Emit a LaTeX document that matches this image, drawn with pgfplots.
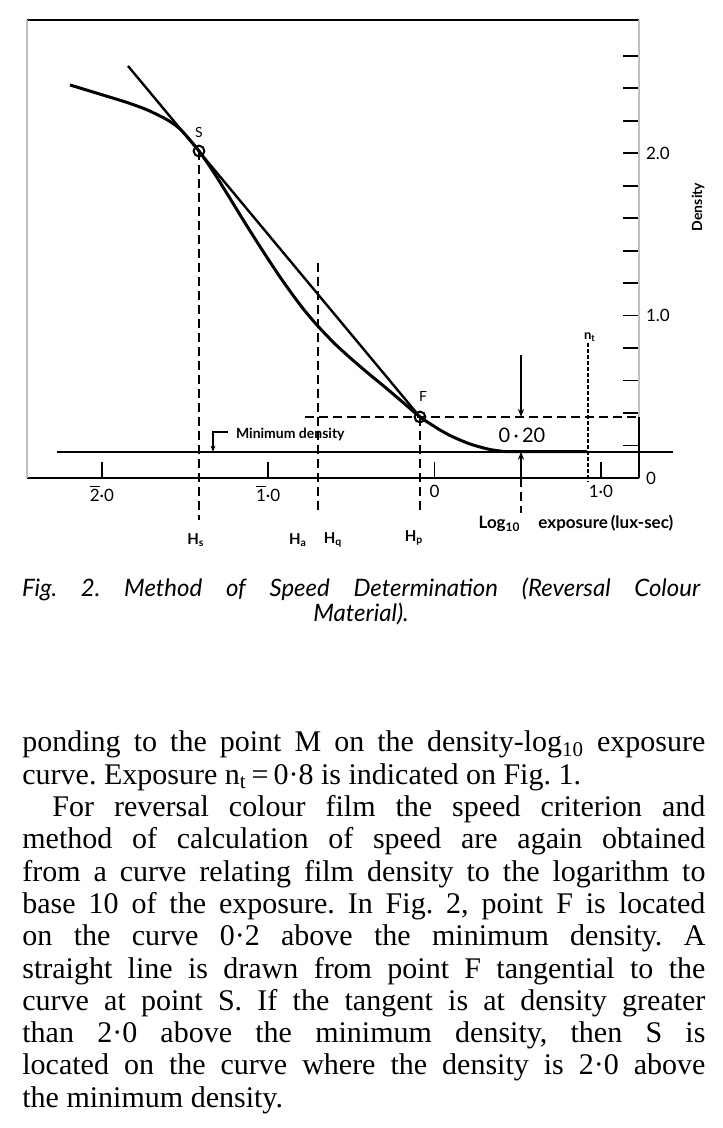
\documentclass[border=0pt]{standalone}
\usepackage{fontspec}
\setmainfont{Liberation Serif}
\newfontfamily\chartfont{Lato}
\usepackage{pgfplots}
\pgfplotsset{compat=1.18}
\usetikzlibrary{arrows.meta}
\newcommand\barnum[1]{\ensuremath{\overline{\mbox{#1}}}}

\begin{document}
\frenchspacing
\begin{tikzpicture}
\path[use as bounding box] (0,0) rectangle (361pt,564pt);
\begin{axis}[
  at={(13.5pt,325pt)}, anchor=south west,
  scale only axis, width=306pt, height=229pt,
  xmin=-2.45, xmax=1.2295, ymin=0, ymax=2.8202,
  clip=false,
  separate axis lines,
  x axis line style={line width=1pt},
  y axis line style={draw=black!25, line width=1.4pt},
  xtick={-2,-1,0,1},
  xticklabels={\barnum{2}·0,\barnum{1}·0,0,1·0},
  ytick={0,0.2,0.4,0.6,0.8,1.0,1.2,1.4,1.6,1.8,2.0,2.2,2.4,2.6},
  yticklabels={0,,,,,1.0,,,,,2.0,,,},
  xtick pos=left, ytick pos=right, yticklabel pos=right,
  tick align=inside, major tick length=8pt,
  tick style={black, line width=0.9pt},
  tick label style={font=\chartfont\fontsize{8.5}{9}\selectfont},
  xlabel={Log\textsubscript{10}\hspace{9pt}exposure\,(lux-sec)},
  xlabel style={at={(rel axis cs:0.897,-0.0983)}, anchor=center,
                font=\chartfont\bfseries\fontsize{8.5}{9}\selectfont},
  ylabel={Density},
  ylabel style={at={(rel axis cs:1.0964,0.5917)}, anchor=center,
                font=\chartfont\bfseries\fontsize{7}{8}\selectfont},
]
% characteristic curve
\addplot[line width=1.5pt, line join=round, smooth, tension=0.45] coordinates {
(-2.1914,2.4200) (-2.0531,2.3768) (-1.9509,2.3448) (-1.8487,2.3122)
(-1.7405,2.2722) (-1.6503,2.2291) (-1.5902,2.1952) (-1.5301,2.1490)
(-1.4700,2.0813) (-1.4159,2.0135) (-1.3497,1.9169) (-1.2896,1.8208)
(-1.2174,1.7014) (-1.1393,1.5708) (-1.0611,1.4440) (-0.9890,1.3300)
(-0.9168,1.2198) (-0.8387,1.1084) (-0.7726,1.0203) (-0.7004,0.9347)
(-0.6042,0.8313) (-0.5080,0.7408) (-0.4118,0.6558) (-0.3096,0.5696)
(-0.2255,0.4969) (-0.1473,0.4280) (-0.0872,0.3756) (-0.0271,0.3344)
(0.0331,0.2956) (0.0932,0.2617) (0.1533,0.2340) (0.2134,0.2094)
(0.2736,0.1909) (0.3337,0.1755) (0.3938,0.1663) (0.4659,0.1619)
(0.9169,0.1619)};
% tangent from F to S
\addplot[line width=1.2pt] coordinates {(-1.8427,2.5369) (-0.0872,0.3756)};
% minimum density line
\addplot[line width=1pt] coordinates {(-2.2696,0.1619) (1.4339,0.1619)};
% dashed construction lines
\addplot[line width=0.9pt, dash pattern=on 4.5pt off 2.5pt] coordinates {(-1.4159,2.0135) (-1.4159,-0.20)};
\addplot[line width=0.9pt] coordinates {(-1.4159,-0.225) (-1.4159,-0.26)};
\addplot[line width=0.9pt, dash pattern=on 4.5pt off 2.5pt] coordinates {(-0.7004,1.324) (-0.7004,-0.2155)};
\addplot[line width=0.9pt, dash pattern=on 4.5pt off 2.5pt] coordinates {(-0.0872,0.3756) (-0.0872,-0.197)};
\addplot[line width=0.9pt, dash pattern=on 4.5pt off 2.5pt] coordinates {(-0.7786,0.3756) (1.2295,0.3756)};
\addplot[line width=1pt] coordinates {(1.2295,0) (1.2295,0.3756)};
% n_t line
\addplot[line width=0.6pt, dash pattern=on 1.8pt off 1.2pt] coordinates {(0.9229,0.831) (0.9229,-0.025)};
% 0.20 arrows
\addplot[line width=0.9pt, -{Stealth[length=4pt,width=3pt]}] coordinates {(0.5201,0.757) (0.5201,0.3756)};
\addplot[line width=0.9pt, -{Stealth[length=4pt,width=3pt]}] coordinates {(0.5201,0) (0.5201,0.1619)};
\addplot[line width=0.9pt, dash pattern=on 4.5pt off 2.5pt] coordinates {(0.5201,0) (0.5201,-0.2155)};
% minimum density leader
\addplot[line width=0.8pt, -{Stealth[length=3pt,width=2.5pt]}] coordinates {(-1.2415,0.2833) (-1.3317,0.2833) (-1.3317,0.1619)};
% points S and F
\addplot[only marks, mark=o, mark size=2.7pt, mark options={line width=1pt, fill=white}] coordinates {(-1.4159,2.0135) (-0.0872,0.3756)};
% labels
\node[font=\chartfont\fontsize{7}{8}\selectfont] at (axis cs:-1.4159,2.1305) {S};
\node[font=\chartfont\fontsize{7}{8}\selectfont] at (axis cs:-0.0691,0.4988) {F};
\node[font=\chartfont\fontsize{10}{11}\selectfont] at (axis cs:0.5261,0.2648) {0\thinspace·\thinspace20};
\node[font=\chartfont\bfseries\fontsize{6.5}{7}\selectfont] at (axis cs:0.9349,0.8682) {n\textsubscript{t}};
\node[font=\chartfont\bfseries\fontsize{7}{8}\selectfont, anchor=west] at (axis cs:-1.2355,0.2709) {Minimum density};
\node[font=\chartfont\bfseries\fontsize{7.5}{8}\selectfont] at (axis cs:-1.4339,-0.3818) {H\textsubscript{s}};
\node[font=\chartfont\bfseries\fontsize{7.5}{8}\selectfont] at (axis cs:-0.8206,-0.3818) {H\textsubscript{a}};
\node[font=\chartfont\bfseries\fontsize{7.5}{8}\selectfont] at (axis cs:-0.6102,-0.3818) {H\textsubscript{q}};
\node[font=\chartfont\bfseries\fontsize{7.5}{8}\selectfont] at (axis cs:-0.1232,-0.3695) {H\textsubscript{p}};
\end{axis}
% caption
\node[anchor=base, inner sep=0, font=\chartfont\itshape\fontsize{12}{14}\selectfont] at (180.5pt,265.5pt)
  {\makebox[339pt][s]{Fig. 2. Method of Speed Determination (Reversal Colour}};
\node[anchor=base, inner sep=0, font=\chartfont\itshape\fontsize{12}{14}\selectfont] at (180.5pt,253pt)
  {Material).};
% running text
\node[anchor=base west, inner sep=0] at (11pt,188pt) {\parbox[t]{341.5pt}{\fontsize{15}{16.15}\selectfont
\setlength\parindent{15pt}\emergencystretch=20pt
\noindent ponding to the point M on the density-log\textsubscript{10} exposure\linebreak
curve. Exposure n\textsubscript{t}\,=\,0·8 is indicated on Fig.~1.\par
For reversal colour film the speed criterion and\linebreak
method of calculation of speed are again obtained\linebreak
from a curve relating film density to the logarithm to\linebreak
base 10 of the exposure. In Fig.~2, point F is located\linebreak
on the curve 0·2 above the minimum density. A\linebreak
straight line is drawn from point F tangential to the\linebreak
curve at point S. If the tangent is at density greater\linebreak
than 2·0 above the minimum density, then S is\linebreak
located on the curve where the density is 2·0 above\linebreak
the minimum density.}};
\end{tikzpicture}
\end{document}
